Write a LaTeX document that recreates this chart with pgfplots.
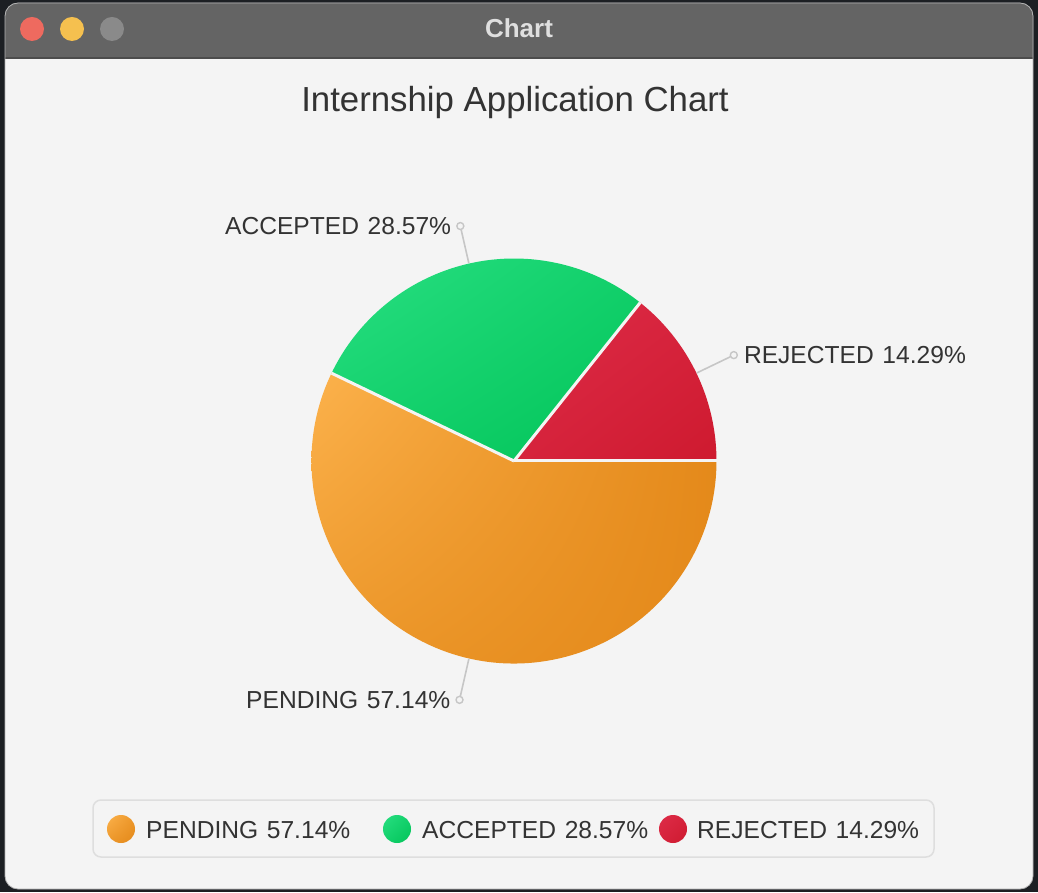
\documentclass[border=0pt]{standalone}
\usepackage{pgfplots}
\usepackage{pgfplotstable}
\pgfplotsset{compat=1.18}
\usetikzlibrary{shadings}
\usepackage{fontspec}
\setmainfont{Liberation Sans}

\definecolor{txt}{HTML}{333333}
\definecolor{bgc}{HTML}{F4F4F4}
\definecolor{barc}{HTML}{646464}
\definecolor{outc}{HTML}{1C1F23}
\definecolor{leadc}{HTML}{C6C6C6}
\definecolor{legb}{HTML}{DEDEDE}
\definecolor{tlr}{HTML}{EE6A5F}
\definecolor{tly}{HTML}{F5C04F}
\definecolor{tlg}{HTML}{8A8A8A}
\definecolor{oL}{HTML}{FCB24C}
\definecolor{oD}{HTML}{E4891A}
\definecolor{oM}{HTML}{EC972A}
\definecolor{gL}{HTML}{29DF82}
\definecolor{gD}{HTML}{02C459}
\definecolor{gM}{HTML}{12D06B}
\definecolor{rL}{HTML}{DE2C48}
\definecolor{rD}{HTML}{CE1A2F}
\definecolor{rM}{HTML}{D6233C}

\pgfplotstableread{
label value
PENDING 57.14
ACCEPTED 28.57
REJECTED 14.29
}\piedata

\pgfplotstablegetelem{0}{value}\of\piedata \let\vP\pgfplotsretval
\pgfplotstablegetelem{1}{value}\of\piedata \let\vA\pgfplotsretval
\pgfplotstablegetelem{2}{value}\of\piedata \let\vR\pgfplotsretval

% slices run counter-clockwise from east: REJECTED, ACCEPTED, PENDING
\pgfmathsetmacro{\aR}{\vR*3.6}
\pgfmathsetmacro{\aA}{\aR+\vA*3.6}
\pgfmathsetmacro{\aP}{\aA+\vP*3.6}
\pgfmathsetmacro{\mR}{\aR/2}
\pgfmathsetmacro{\mA}{(\aR+\aA)/2}
\pgfmathsetmacro{\mP}{(\aA+\aP)/2}

\newcommand{\lbl}{\fontsize{24.6}{30}\selectfont\color{txt}}

\begin{document}
\begin{tikzpicture}
\begin{axis}[
  at={(0,0)}, anchor=south west,
  width=1038pt, height=892pt, scale only axis,
  xmin=0, xmax=1038, ymin=0, ymax=892,
  hide axis, clip=false,
]
% window background
\fill[outc] (axis cs:0,0) rectangle (axis cs:1038,892);
\fill[bgc, rounded corners=13pt] (axis cs:5,3) rectangle (axis cs:1033,889);
\begin{scope}
\clip[rounded corners=13pt] (axis cs:5,3) rectangle (axis cs:1033,889);
\fill[barc] (axis cs:5,834) rectangle (axis cs:1033,889);
\draw[black!70, line width=1.2pt] (axis cs:5,834) -- (axis cs:1033,834);
\end{scope}
\draw[gray!60, line width=0.8pt, rounded corners=13pt] (axis cs:5,3) rectangle (axis cs:1033,889);
\fill[tlr] (axis cs:32,863) circle[radius=12pt];
\fill[tly] (axis cs:72,863) circle[radius=12pt];
\fill[tlg] (axis cs:112,863) circle[radius=12pt];
\node[anchor=base, text=gray!25, font=\fontsize{26}{30}\selectfont\bfseries] at (axis cs:519,854) {Chart};

% title
\node[anchor=base, font=\fontsize{34.8}{40}\selectfont, text=txt] at (axis cs:515,780) {Internship Application Chart};

% pie slices
\begin{scope}
\clip (axis cs:514,431) -- ++(0:202.5pt) arc[start angle=0, end angle=\aR, radius=202.5pt] -- cycle;
\shade[upper left=rL, upper right=rM, lower left=rM, lower right=rD] (axis cs:514,431) rectangle (axis cs:717,590);
\end{scope}
\begin{scope}
\clip (axis cs:514,431) -- ++(\aR:202.5pt) arc[start angle=\aR, end angle=\aA, radius=202.5pt] -- cycle;
\shade[upper left=gL, upper right=gM, lower left=gM, lower right=gD] (axis cs:331,431) rectangle (axis cs:640,634);
\end{scope}
\begin{scope}
\clip (axis cs:514,431) -- ++(\aA:202.5pt) arc[start angle=\aA, end angle=\aP, radius=202.5pt] -- cycle;
\shade[upper left=oL, upper right=oD, lower left=oM, lower right=oD] (axis cs:311,228) rectangle (axis cs:717,519);
\end{scope}
\draw[bgc, line width=3pt, line join=round] (axis cs:514,431) -- ++(0:202.5pt);
\draw[bgc, line width=3pt, line join=round] (axis cs:514,431) -- ++(\aR:202.5pt);
\draw[bgc, line width=3pt, line join=round] (axis cs:514,431) -- ++(\aA:202.5pt);

% leader lines and labels
\draw[leadc, line width=1.6pt] (axis cs:514,431) ++(\mR:203pt) -- ++(\mR:37pt);
\draw[leadc, line width=1.6pt] (axis cs:514,431) ++(\mA:203pt) -- ++(\mA:34pt);
\draw[leadc, line width=1.6pt] (axis cs:514,431) ++(\mP:203pt) -- ++(\mP:38pt);
\draw[leadc, line width=1.4pt] (axis cs:514,431) ++(\mR:244pt) circle[radius=3.5pt];
\draw[leadc, line width=1.4pt] (axis cs:514,431) ++(\mA:241pt) circle[radius=3.5pt];
\draw[leadc, line width=1.4pt] (axis cs:514,431) ++(\mP:245pt) circle[radius=3.5pt];
\path (axis cs:514,431) ++(\mR:244pt) node[anchor=west, xshift=10pt, inner sep=0pt, font=\lbl] {REJECTED\hspace{0.35em}14.29\%};
\path (axis cs:514,431) ++(\mA:241pt) node[anchor=east, xshift=-9pt, inner sep=0pt, font=\lbl] {ACCEPTED\hspace{0.35em}28.57\%};
\path (axis cs:514,431) ++(\mP:245pt) node[anchor=east, xshift=-9pt, inner sep=0pt, font=\lbl] {PENDING\hspace{0.35em}57.14\%};

% legend
\draw[legb, line width=1.5pt, rounded corners=8pt] (axis cs:93,35) rectangle (axis cs:934,92);
\begin{scope}\clip (axis cs:121,63) circle[radius=14pt];
\shade[upper left=oL, upper right=oM, lower left=oM, lower right=oD] (axis cs:107,49) rectangle (axis cs:135,77);\end{scope}
\begin{scope}\clip (axis cs:397,63) circle[radius=14pt];
\shade[upper left=gL, upper right=gM, lower left=gM, lower right=gD] (axis cs:383,49) rectangle (axis cs:411,77);\end{scope}
\begin{scope}\clip (axis cs:673,63) circle[radius=14pt];
\shade[upper left=rL, upper right=rM, lower left=rM, lower right=rD] (axis cs:659,49) rectangle (axis cs:687,77);\end{scope}
\node[anchor=base west, inner sep=0pt, font=\lbl] at (axis cs:146,54) {PENDING\hspace{0.35em}57.14\%};
\node[anchor=base west, inner sep=0pt, font=\lbl] at (axis cs:422,54) {ACCEPTED\hspace{0.35em}28.57\%};
\node[anchor=base west, inner sep=0pt, font=\lbl] at (axis cs:697,54) {REJECTED\hspace{0.35em}14.29\%};
\end{axis}
\end{tikzpicture}
\end{document}
